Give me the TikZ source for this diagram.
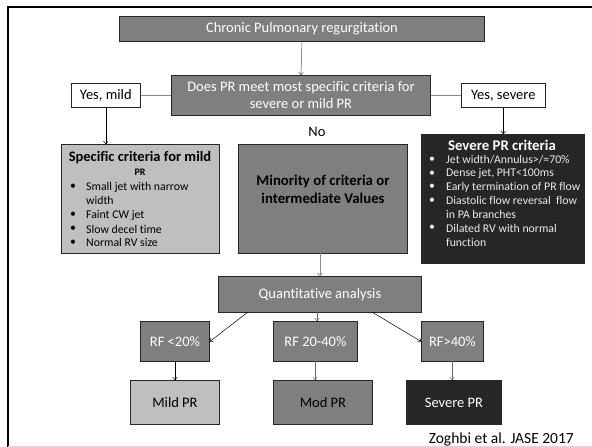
\documentclass[tikz,border=0pt]{standalone}
\usepackage{fontspec}
\setmainfont[Ligatures={NoCommon}]{Carlito}
\usetikzlibrary{arrows.meta}
\definecolor{midg}{HTML}{7F7F7F}
\definecolor{lightg}{HTML}{BFBFBF}
\definecolor{darkg}{HTML}{262626}
\tikzset{
  box/.style={draw=black!85, line width=0.9pt, inner sep=0pt, anchor=north west},
  lbl/.style={inner sep=0pt, font=\fontsize{14.5}{17}\selectfont},
  itm/.style={inner sep=0pt, anchor=west, font=\fontsize{11.8}{13}\selectfont},
  arr/.style={-{To[length=3pt,width=5pt]}, line width=0.5pt},
  ln/.style={line width=0.5pt, draw=black!70}
}
\begin{document}
\begin{tikzpicture}[x=1pt,y=-1pt]
\useasboundingbox (0,0) rectangle (592,447);
% frame
\draw[line width=2pt] (8,447) -- (8,7) -- (592,7);
\draw[line width=0.8pt, black!15] (8,446) -- (592,446);

% top
\node[box, fill=midg, minimum width=365pt, minimum height=25pt] (title) at (119,16) {};
\node[lbl, text=white] (titlet) at (title.center) {Chronic Pulmonary regurgitation};
\node[box, fill=midg, minimum width=259pt, minimum height=40pt] (q) at (171,75) {};
\node[lbl, text=white, align=center] (qt) at (q.center) {Does PR meet most specific criteria for\\severe or mild PR};
\node[box, fill=white, line width=0.6pt, minimum width=69pt, minimum height=24pt] (ym) at (71,83) {};
\node[lbl] (ymt) at (ym.center) {Yes, mild};
\node[box, fill=white, line width=0.6pt, minimum width=84pt, minimum height=24pt] (ys) at (461,83) {};
\node[lbl] (yst) at (ys.center) {Yes, severe};
\draw[arr, black!70] (title.south) -- (q.north);
\draw[ln] (ym.east) -- (q.west);
\draw[ln] (q.east) -- (ys.west);
\node[lbl] (no) at (317,132) {No};

% middle row
\node[box, fill=lightg, minimum width=158pt, minimum height=109pt] (mild) at (61,144) {};
\node[box, fill=midg, minimum width=169pt, minimum height=109pt] (mid) at (238,144) {};
\node[box, fill=darkg, minimum width=163pt, minimum height=129pt] (sev) at (421,134) {};
\draw[arr] (ym.south) -- (ym.south |- mild.north);
\draw[arr] (ys.south) -- (ys.south |- sev.north);

\node[lbl, font=\fontsize{14.5}{17}\selectfont\bfseries] (mildh) at (140,158) {Specific criteria for mild};
\node[lbl, font=\fontsize{10}{12}\selectfont\bfseries] (mildh2) at (140,172) {PR};
\foreach \t/\y/\b [count=\i] in {Small jet with narrow/187/1, width/200.5/0, Faint CW jet/215/1, Slow decel time/229/1, Normal RV size/242.5/1}{
  \node[itm] (mildi\i) at (86,\y) {\t};
  \ifnum\b=1 \node[itm] (mildb\i) at (70,\y) {•}; \fi
}

\node[lbl, font=\fontsize{14.8}{17}\selectfont\bfseries, align=center] (midt) at (323,189) {Minority of criteria or\\[1pt]intermediate Values};

\node[lbl, text=white, font=\fontsize{14.8}{17}\selectfont\bfseries] (sevh) at (502,145) {Severe PR criteria};
\foreach \t/\y/\b [count=\i] in {{Jet width/Annulus>/=70\%}/160/1, {Dense jet, PHT<100ms}/173.5/1, Early termination of PR flow/187/1, Diastolic flow reversal\ \ flow/200.5/1, in PA branches/214/0, Dilated RV with normal/228/1, function/242/0}{
  \node[itm, text=white!92!black] (sevi\i) at (446,\y) {\t};
  \ifnum\b=1 \node[itm, text=white!92!black] (sevb\i) at (429,\y) {•}; \fi
}

% quantitative
\node[box, fill=midg, minimum width=203pt, minimum height=36pt] (quant) at (218,276) {};
\node[lbl, text=white] (quantt) at (quant.center) {Quantitative analysis};
\draw[arr, black!45, line width=0.8pt] (320,253) -- (320,276);

\node[box, fill=midg, minimum width=69pt, minimum height=40pt] (rf1) at (140,321) {};
\node[lbl, text=white] (rf1t) at (rf1.center) {RF <20\%};
\node[box, fill=midg, minimum width=84pt, minimum height=40pt] (rf2) at (273,321) {};
\node[lbl, text=white] (rf2t) at (rf2.center) {RF 20-40\%};
\node[box, fill=midg, minimum width=62pt, minimum height=40pt] (rf3) at (421,321) {};
\node[lbl, text=white] (rf3t) at (rf3.center) {RF>40\%};

\draw[arr] (248,312) -- (rf1.east);
\draw[arr, black!60] (317,312) -- (317,321);
\draw[arr] (372,312) -- (rf3.west);

\node[box, fill=lightg, minimum width=89pt, minimum height=44pt] (mpr) at (130,380) {};
\node[lbl] (mprt) at (mpr.center) {Mild PR};
\node[box, fill=midg, minimum width=99pt, minimum height=44pt] (mod) at (273,380) {};
\node[lbl] (modt) at (mod.center) {Mod PR};
\node[box, fill=darkg, minimum width=95pt, minimum height=44pt] (spr) at (406,380) {};
\node[lbl, text=white] (sprt) at (spr.center) {Severe PR};

\draw[arr] (175,361) -- (175,380);
\draw[arr, black!60] (315,361) -- (315,380);
\draw[arr, black!60] (452,361) -- (452,380);

\node[lbl, anchor=east, font=\fontsize{15.5}{17}\selectfont] (cite) at (574,439) {Zoghbi et al. JASE 2017};
\end{tikzpicture}
\end{document}
